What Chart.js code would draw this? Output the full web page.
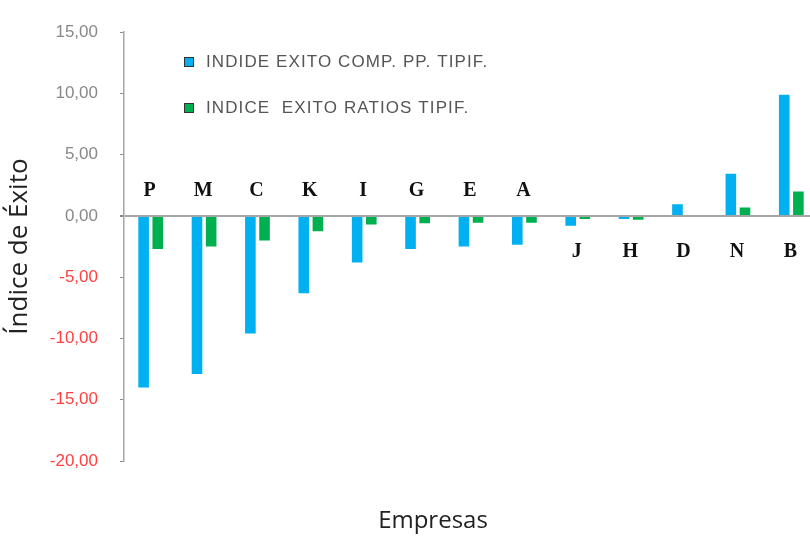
<!DOCTYPE html>
<html>
<head>
<meta charset="utf-8">
<script src="https://cdn.jsdelivr.net/npm/chart.js@4"></script>
<style>
  html, body { margin: 0; padding: 0; background: #fff; overflow: hidden; }
  #wrap { position: relative; width: 818px; height: 536px; }
</style>
</head>
<body>
<div id="wrap"><canvas id="chart"></canvas></div>
<script>
// --- DATA ---
const empresas = ['P', 'M', 'C', 'K', 'I', 'G', 'E', 'A', 'J', 'H', 'D', 'N', 'B'];
const compPP = [-14.0, -12.9, -9.6, -6.3, -3.8, -2.7, -2.5, -2.35, -0.8, -0.25, 0.95, 3.45, 9.9];
const ratios = [-2.7, -2.5, -2.0, -1.25, -0.7, -0.6, -0.55, -0.55, -0.25, -0.3, 0, 0.7, 2.0];
const yTicks = [-20, -15, -10, -5, 0, 5, 10, 15];
const serieLabels = ['INDIDE EXITO COMP. PP. TIPIF.', 'INDICE  EXITO RATIOS TIPIF.'];
const yTitle = 'Índice de Éxito';
const xTitle = 'Empresas';

const BLUE = '#00b0f0';
const GREEN = '#00b050';
const AXIS = '#a6a6a6';

const fmt = v => v.toFixed(2).replace('.', ',');

// company letters sit above the zero line when the bar drops well below it
const letterPlugin = {
    id: 'letters',
    afterDatasetsDraw(chart) {
        const { ctx, scales: { x, y } } = chart;
        const zero = y.getPixelForValue(0);
        ctx.save();
        ctx.font = 'bold 20px "Liberation Serif", "DejaVu Serif", serif';
        ctx.fillStyle = '#111';
        ctx.textAlign = 'center';
        ctx.textBaseline = 'middle';
        empresas.forEach((e, i) => {
            const above = compPP[i] < -2;
            ctx.fillText(e, x.getPixelForValue(i) - 1, above ? zero - 25 : zero + 36);
        });
        ctx.restore();
    }
};

const legendPlugin = {
    id: 'sideLegend',
    afterDraw(chart) {
        const { ctx } = chart;
        ctx.save();
        ctx.font = '17px "Liberation Sans", sans-serif';
        ctx.letterSpacing = '1.1px';
        ctx.textBaseline = 'middle';
        chart.data.datasets.forEach((ds, i) => {
            const yy = 62 + i * 46;
            ctx.fillStyle = ds.backgroundColor;
            ctx.fillRect(184, yy - 5, 10, 10);
            ctx.strokeStyle = '#333';
            ctx.lineWidth = 1;
            ctx.strokeRect(184.5, yy - 4.5, 9, 9);
            ctx.fillStyle = '#555';
            ctx.fillText(ds.label, 206, yy);
        });
        ctx.restore();
    }
};

const xTitlePlugin = {
    id: 'xTitle',
    afterDraw(chart) {
        const { ctx } = chart;
        ctx.save();
        ctx.font = '24px "Open Sans", sans-serif';
        ctx.fillStyle = '#222';
        ctx.textAlign = 'center';
        ctx.textBaseline = 'middle';
        ctx.fillText(xTitle, 433, 521);
        ctx.restore();
    }
};

new Chart(document.getElementById('chart'), {
    type: 'bar',
    data: {
        labels: empresas,
        datasets: [
            { label: serieLabels[0], data: compPP, backgroundColor: BLUE, barPercentage: 0.75, categoryPercentage: 0.53 },
            { label: serieLabels[1], data: ratios, backgroundColor: GREEN, barPercentage: 0.75, categoryPercentage: 0.53 }
        ]
    },
    options: {
        responsive: true,
        maintainAspectRatio: false,
        animation: false,
        layout: { padding: { top: 27, right: 0, left: 0, bottom: 0 } },
        plugins: { legend: { display: false }, tooltip: { enabled: false } },
        scales: {
            x: {
                grid: { display: false },
                border: { display: false },
                ticks: { display: false },
                afterFit: s => { s.height = 75; }
            },
            y: {
                min: yTicks[0],
                max: yTicks[yTicks.length - 1],
                afterBuildTicks: s => { s.ticks = yTicks.map(v => ({ value: v })); },
                afterFit: s => { s.width = 124; },
                border: { color: AXIS, width: 1.5 },
                grid: {
                    color: c => c.tick && c.tick.value === 0 ? AXIS : 'transparent',
                    lineWidth: c => c.tick && c.tick.value === 0 ? 2 : 1,
                    tickColor: '#8a8a8a',
                    tickLength: 4
                },
                ticks: {
                    padding: 22,
                    font: { size: 17, family: '"Liberation Sans", sans-serif' },
                    color: c => c.tick.value < 0 ? '#ff4040' : '#888888',
                    callback: v => fmt(v)
                },
                title: {
                    display: true,
                    text: yTitle,
                    color: '#222',
                    font: { size: 26, family: '"Open Sans", sans-serif' },
                    padding: { top: 4, bottom: 0 }
                }
            }
        }
    },
    plugins: [letterPlugin, legendPlugin, xTitlePlugin]
});
</script>
</body>
</html>
